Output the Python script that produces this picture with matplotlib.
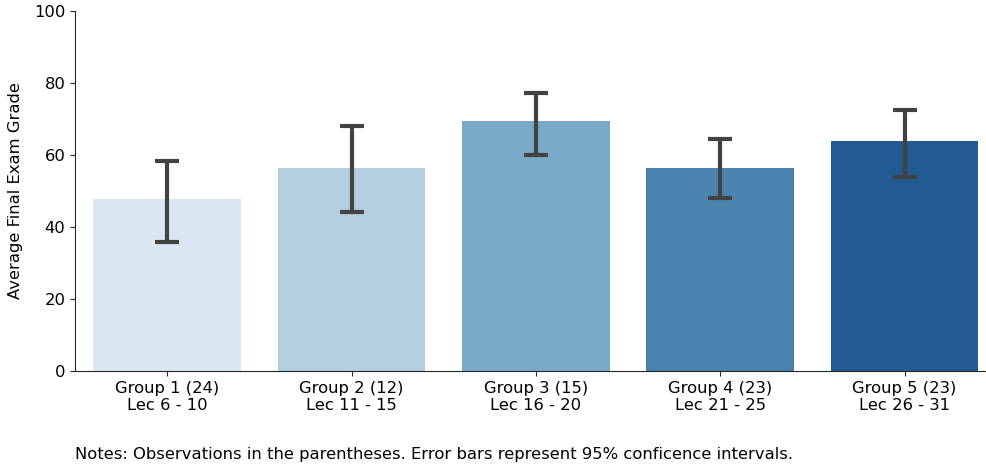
import numpy as np
import matplotlib
matplotlib.use("Agg")
import matplotlib.pyplot as plt
import seaborn as sns

groups = ["Group 1 (24)\nLec 6 - 10", "Group 2 (12)\nLec 11 - 15", "Group 3 (15)\nLec 16 - 20",
          "Group 4 (23)\nLec 21 - 25", "Group 5 (23)\nLec 26 - 31"]
means = [47.8, 56.4, 69.4, 56.5, 64.0]
ci_low = [35.7, 44.3, 60.1, 48.1, 53.8]
ci_high = [58.3, 68.0, 77.1, 64.4, 72.6]

plt.rcParams['font.family'] = ['DejaVu Sans']
plt.rcParams['font.size'] = 11.8

colors = [sns.desaturate(c, 0.75) for c in sns.color_palette("Blues", 5)]

fig = plt.figure(figsize=(9.87, 4.67), dpi=100)
ax = fig.add_axes([75/987, 96/467, 921.7/987, 360/467])

x = np.arange(len(groups))
ax.bar(x, means, width=0.8, color=colors, edgecolor=colors, linewidth=0)
yerr = [np.array(means) - np.array(ci_low), np.array(ci_high) - np.array(means)]
ax.errorbar(x, means, yerr=yerr, fmt='none', ecolor='#424242', elinewidth=3.0,
            capsize=8.4, capthick=3.0)

ax.set_xlim(-0.5, 4.5)
ax.set_ylim(0, 100)
ax.set_xticks(x)
ax.set_xticklabels(groups, linespacing=1.15)
ax.set_yticks([0, 20, 40, 60, 80, 100])
ax.set_ylabel("Average Final Exam Grade", labelpad=8)
for s in ["top", "right"]:
    ax.spines[s].set_visible(False)
for s in ["left", "bottom"]:
    ax.spines[s].set_color('#262626')
ax.tick_params(colors='#262626', labelcolor='black')

fig.text(75/987, 1 - 455/467, "Notes: Observations in the parentheses. Error bars represent 95% conficence intervals.",
         ha='left', va='center', fontsize=11.8)

fig.savefig("out.png", dpi=100)
